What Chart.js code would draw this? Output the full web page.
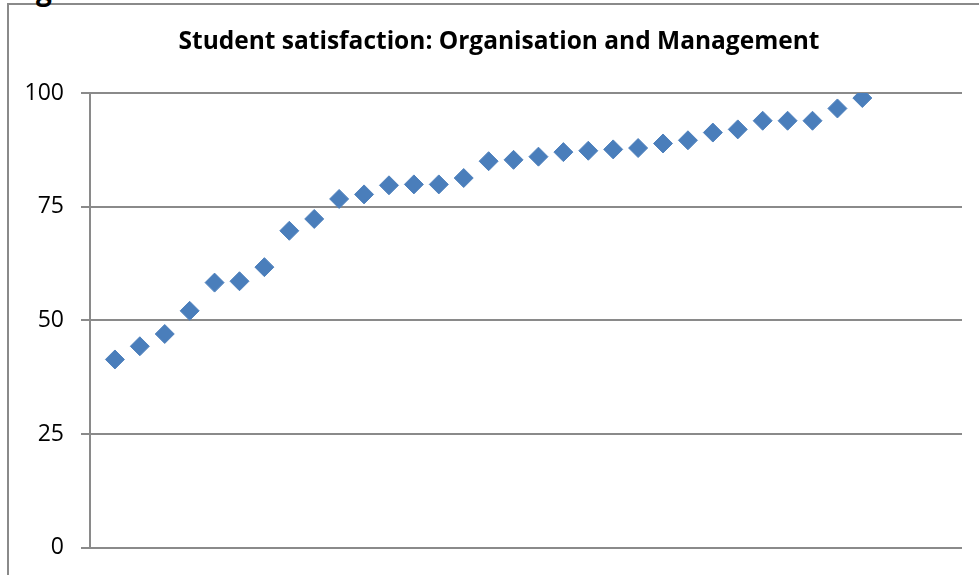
<!DOCTYPE html>
<html>
<head>
<meta charset="utf-8">
<script src="https://cdn.jsdelivr.net/npm/chart.js@4/dist/chart.umd.min.js"></script>
<style>
  html, body { margin: 0; padding: 0; background: #fff; overflow: hidden; }
  #wrap { position: relative; width: 979px; height: 575px; }
  #frame {
    position: absolute; left: 7px; top: 3px; width: 1100px; height: 700px;
    border: 2px solid #8a8a8a; box-sizing: border-box;
  }
  #cut {
    position: absolute; left: 36px; top: -30px;
    font: bold 28px "Open Sans", sans-serif; color: #000;
  }
  canvas { position: absolute; left: 0; top: 0; }
</style>
</head>
<body>
<div id="wrap">
  <div id="frame"></div>
  <div id="cut">g</div>
  <canvas id="chart" width="979" height="575"></canvas>
</div>
<script>
// data, one score per course, sorted
const positions = [1, 2, 3, 4, 5, 6, 7, 8, 9, 10, 11, 12, 13, 14, 15, 16,
  17, 18, 19, 20, 21, 22, 23, 24, 25, 26, 27, 28, 29, 30, 31];
const scores = [41.4, 44.3, 47.0, 52.1, 58.3, 58.6, 61.7, 69.7, 72.3, 76.7,
  77.7, 79.7, 79.9, 79.9, 81.3, 85.0, 85.3, 86.0, 87.0, 87.3, 87.6, 87.9,
  88.9, 89.6, 91.3, 92.0, 93.9, 93.9, 93.9, 96.6, 98.9];
const yTicks = [0, 25, 50, 75, 100];
const title = 'Student satisfaction: Organisation and Management';

const points = positions.map((x, i) => ({ x: x, y: scores[i] }));

// the chart frame runs off the right edge, so the title sits right of the canvas middle
const titlePlugin = {
  id: 'offsetTitle',
  afterDraw(chart) {
    const ctx = chart.ctx;
    ctx.save();
    ctx.font = 'bold 24.5px "Open Sans"';
    ctx.fillStyle = '#000';
    ctx.textAlign = 'center';
    ctx.textBaseline = 'middle';
    ctx.fillText(title, 499, 42);
    ctx.restore();
  }
};

new Chart(document.getElementById('chart'), {
  type: 'scatter',
  data: {
    datasets: [{
      data: points,
      pointStyle: 'rectRot',
      pointRadius: 9.5,
      pointBorderWidth: 1,
      backgroundColor: '#4a7ebb',
      borderColor: '#4f81bd'
    }]
  },
  plugins: [titlePlugin],
  options: {
    responsive: false,
    animation: false,
    layout: { padding: { left: 0, right: 17, top: 93, bottom: 27.3 } },
    plugins: {
      legend: { display: false },
      tooltip: { enabled: false },
      title: { display: false }
    },
    scales: {
      x: {
        type: 'linear',
        min: 0,
        max: 35,
        display: false
      },
      y: {
        min: 0,
        max: 100,
        afterBuildTicks: axis => { axis.ticks = yTicks.map(v => ({ value: v })); },
        afterFit: axis => {
          axis.width = 90;
          axis.paddingTop = 0;
          axis.paddingBottom = 0;
        },
        ticks: {
          color: '#000',
          padding: 17,
          font: { family: 'Open Sans', size: 23 }
        },
        grid: {
          color: '#8a8a8a',
          lineWidth: 2,
          tickLength: 9,
          drawTicks: true
        },
        border: { display: true, color: '#8a8a8a', width: 2 }
      }
    }
  }
});
</script>
</body>
</html>
